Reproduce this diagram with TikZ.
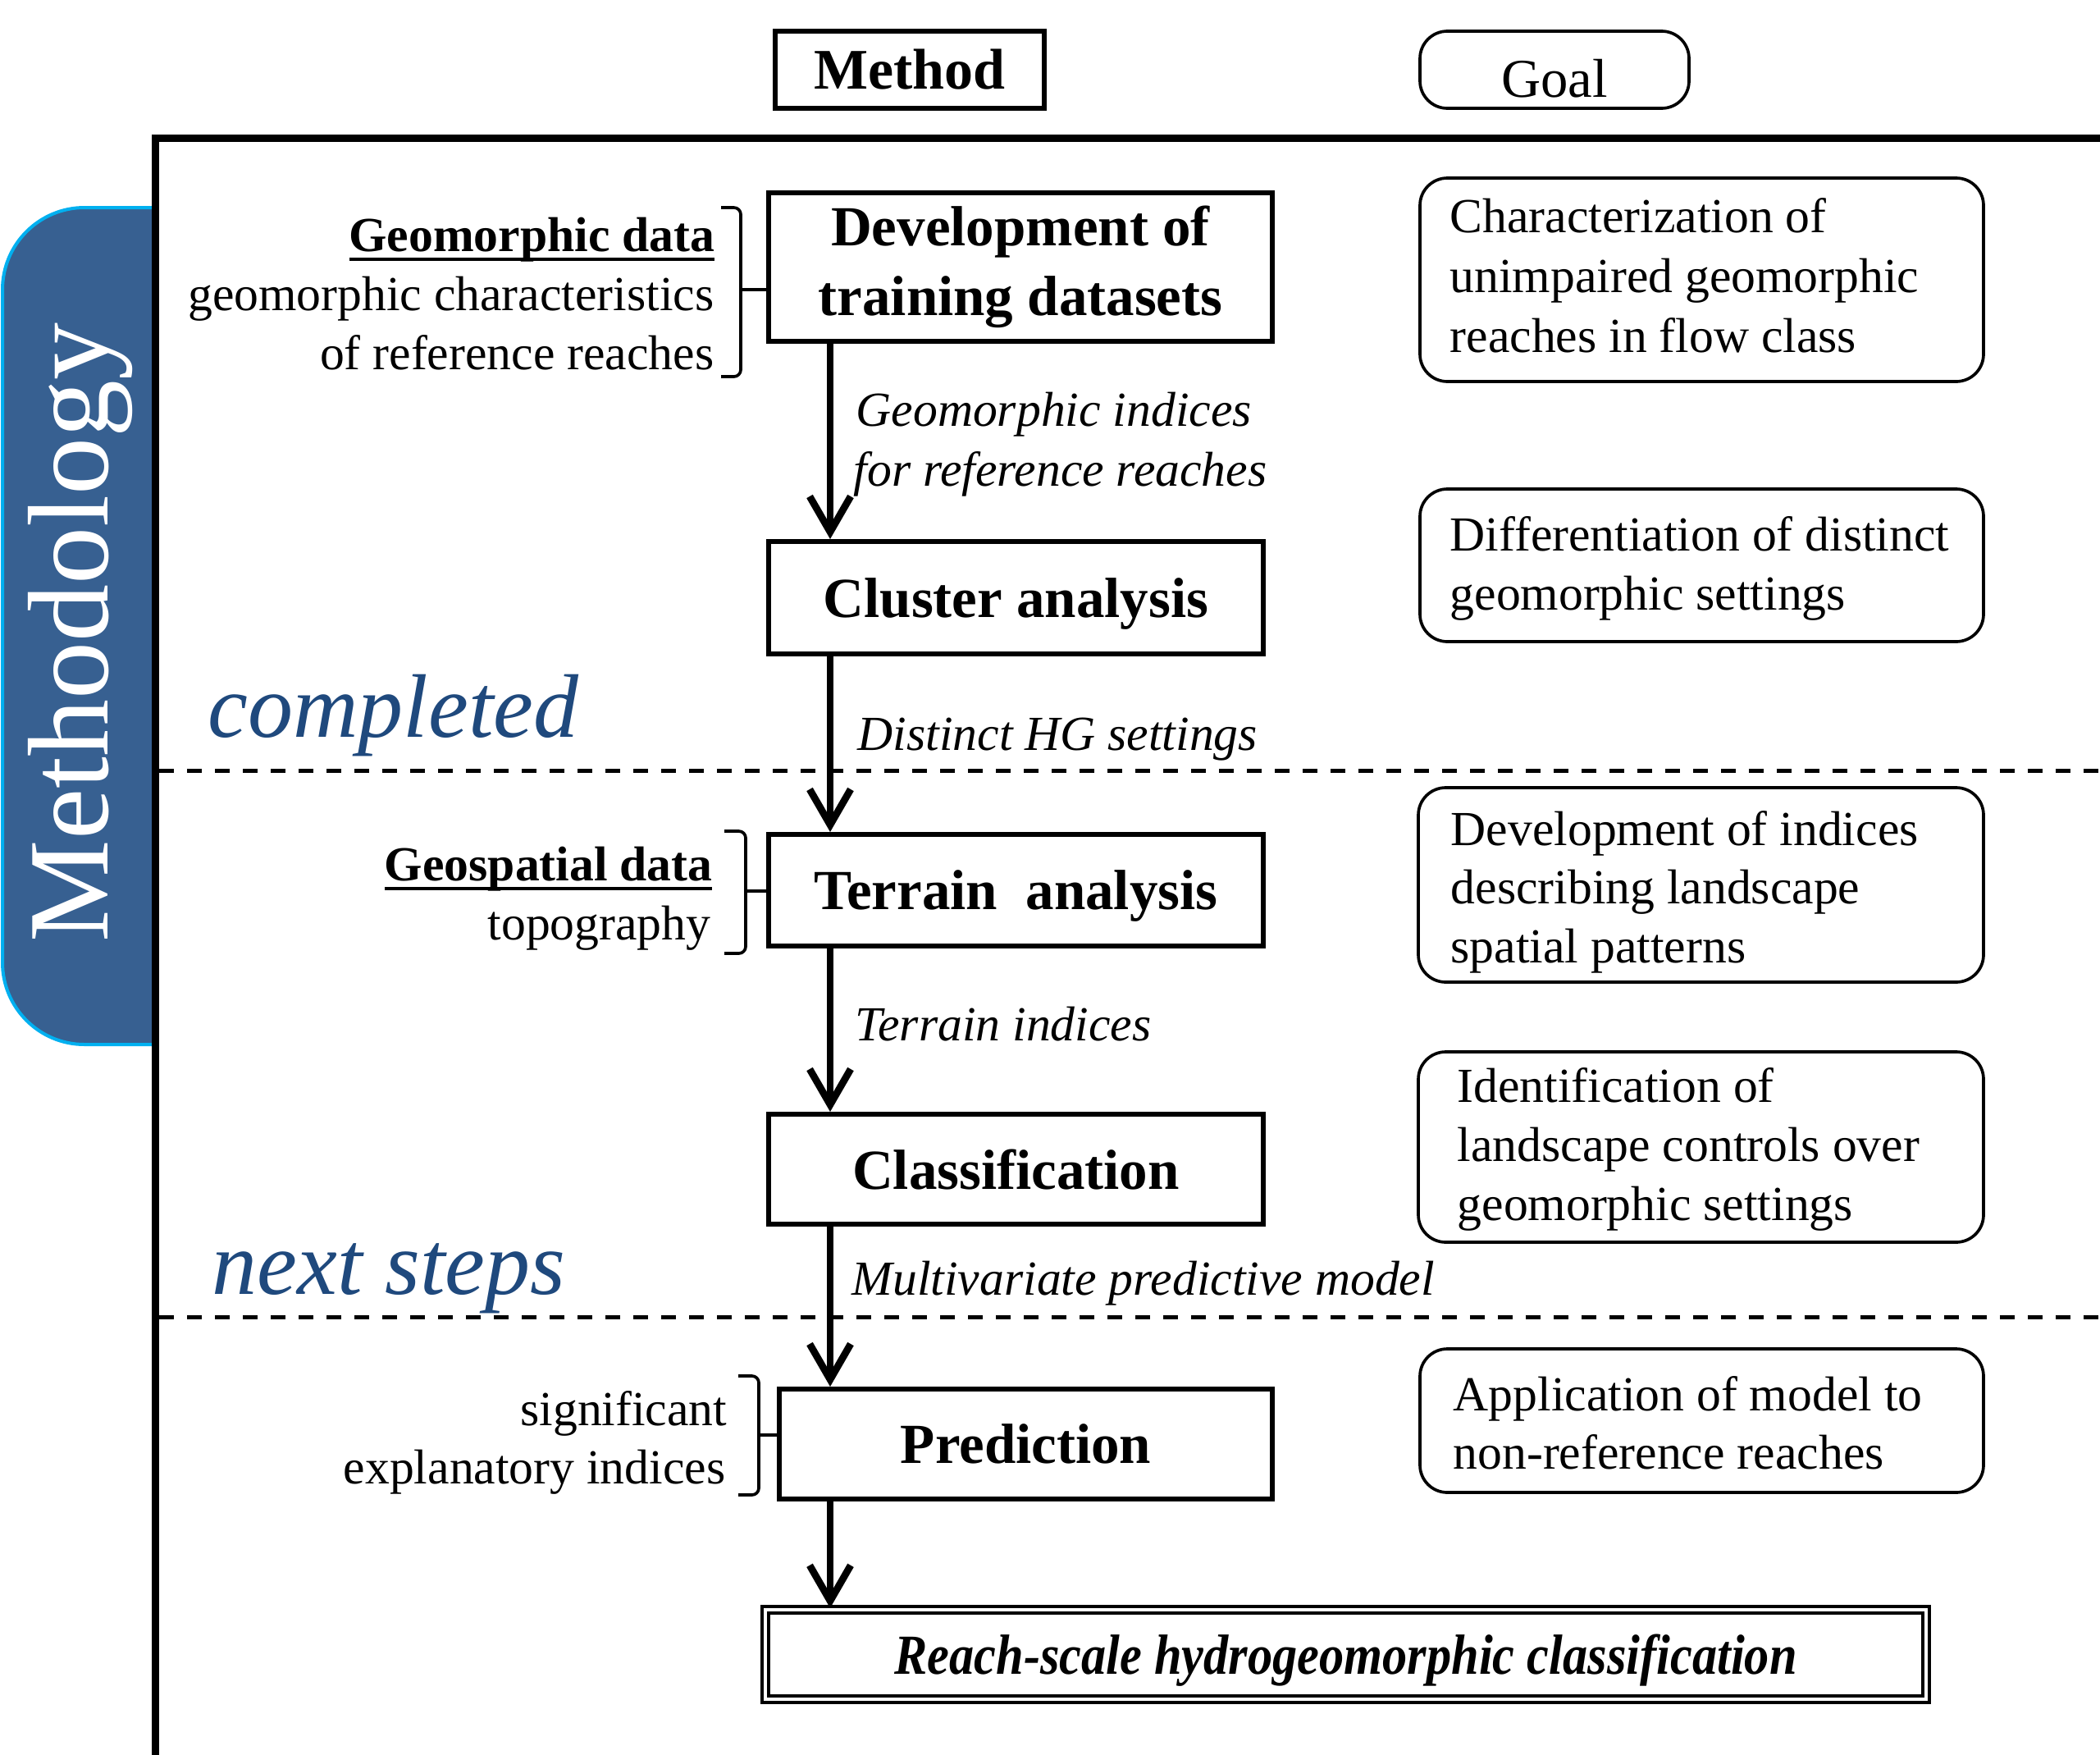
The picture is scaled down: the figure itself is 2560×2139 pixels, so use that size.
\documentclass[tikz,border=0pt]{standalone}
\usepackage{fontspec}
\setmainfont{Liberation Serif}
\usetikzlibrary{arrows.meta}

\definecolor{tabfill}{RGB}{55,96,145}
\definecolor{tabedge}{RGB}{0,176,240}
\definecolor{stageblue}{RGB}{31,73,125}

% heavier underline for the input headings
\newcommand{\headrule}[1]{\setbox0\hbox{#1}\rlap{\rule[-3.6pt]{\wd0}{1.1pt}}\box0}

\begin{document}
\begin{tikzpicture}[x=0.3pt, y=-0.3pt,
  stepbox/.style={draw, line width=1.8pt, inner sep=0pt, align=center,
    font=\fontsize{20.7}{25.5}\selectfont\bfseries},
  onerow/.style={text depth=0pt},
  goalbox/.style={draw, line width=1.1pt, rounded corners=10pt, inner sep=0pt,
    minimum width=206.1pt},
  goaltext/.style={anchor=base west, inner sep=0pt, font=\fontsize{17.9}{21.6}\selectfont},
  datatext/.style={anchor=base east, inner sep=0pt, font=\fontsize{17.9}{21.6}\selectfont},
  flowlabel/.style={anchor=base west, inner sep=0pt, font=\fontsize{17.9}{21.6}\selectfont\itshape},
  flow/.style={line width=2.5pt, -{Straight Barb[length=13pt,width=15pt,line width=2.6pt]}},
  bracket/.style={line width=1.1pt, rounded corners=2.5pt},
  stage/.style={anchor=base west, inner sep=0pt, text=stageblue,
    font=\fontsize{33}{40}\selectfont\itshape},
  divider/.style={line width=1.5pt, dash pattern=on 5.4pt off 4.8pt}
]
\useasboundingbox (0,0) rectangle (2560,2139);

% side tab with the vertical title
\filldraw[fill=tabfill, draw=tabedge, line width=1.2pt, rounded corners=30pt]
  (189,253) -- (3,253) -- (3,1273) -- (189,1273);
\node[rotate=90, anchor=base, inner sep=0pt, text=white,
  font=\fontsize{42}{50}\selectfont] (tabtitle) at (131,771) {Methodology};

% outer frame
\draw[line width=2.7pt] (189,2160) -- (189,168) -- (2580,168);

% stage dividers and stage names
\draw[divider] (194,939) -- (2560,939);
\draw[divider] (194,1605) -- (2560,1605);
\node[stage] (done) at (253,898) {completed};
\node[stage] (todo) at (258,1577) {next steps};

% column headers
\node[draw, line width=1.8pt, minimum width=98.4pt, minimum height=28.2pt, inner sep=0pt,
  font=\fontsize{21}{25}\selectfont\bfseries] (methodhead) at (1109,85) {Method};
\node[goalbox, minimum width=98.4pt, minimum height=28.2pt, text height=19.8pt, text depth=0pt,
  font=\fontsize{20}{24}\selectfont] (goalhead) at (1895,85) {Goal};

% method steps
\coordinate (spine) at (1012,0);
\node[stepbox, minimum width=184.2pt, minimum height=54.3pt] (dev) at (1244,325.5)
  {Development of\\training datasets};
\node[stepbox, onerow, minimum width=180.9pt, minimum height=41.1pt] (clu) at (1238.5,728.5)
  {Cluster analysis};
\node[stepbox, onerow, minimum width=180.9pt, minimum height=40.8pt] (ter) at (1238.5,1085)
  {Terrain~ analysis};
\node[stepbox, onerow, minimum width=180.9pt, minimum height=40.2pt] (cla) at (1238.5,1425)
  {Classification};
\node[stepbox, onerow, minimum width=180.3pt, minimum height=40.2pt] (pre) at (1250.5,1760)
  {Prediction};
\node[draw, line width=1.3pt, double=white, double distance=1.2pt, inner sep=0pt,
  minimum width=424.5pt, minimum height=32.7pt, text depth=0pt,
  font=\fontsize{20.7}{25}\selectfont\bfseries\itshape] (res) at (1640.5,2016.5)
  {\scalebox{0.875}[1]{Reach-scale hydrogeomorphic classification}};

% flow between the steps
\draw[flow] (dev.south -| spine) -- (clu.north -| spine);
\draw[flow] (clu.south -| spine) -- (ter.north -| spine);
\draw[flow] (ter.south -| spine) -- (cla.north -| spine);
\draw[flow] (cla.south -| spine) -- (pre.north -| spine);
\draw[flow] (pre.south -| spine) -- (res.north -| spine);

% what passes along each step
\node[flowlabel] (f1a) at (1043,519) {Geomorphic indices};
\node[flowlabel] (f1b) at (1040,592) {for reference reaches};
\node[flowlabel] (f2) at (1045,914) {Distinct HG settings};
\node[flowlabel] (f3) at (1042,1268) {Terrain indices};
\node[flowlabel] (f4) at (1038,1578) {Multivariate predictive model};

% inputs on the left, with their brackets
\node[datatext, font=\fontsize{17.9}{21.6}\selectfont\bfseries] (in1a) at (872,306) {\headrule{Geomorphic data}};
\node[datatext] (in1b) at (871,378) {geomorphic characteristics};
\node[datatext] (in1c) at (871,450) {of reference reaches};
\draw[bracket] (879,253) -- (903,253) -- (903,459) -- (879,459);
\draw[line width=1.1pt] (903,353) -- (dev.west |- 0,353);

\node[datatext, font=\fontsize{17.9}{21.6}\selectfont\bfseries] (in2a) at (869,1073) {\headrule{Geospatial data}};
\node[datatext] (in2b) at (867,1145) {topography};
\draw[bracket] (883,1013) -- (909,1013) -- (909,1162) -- (883,1162);
\draw[line width=1.1pt] (909,1086) -- (ter.west |- 0,1086);

\node[datatext] (in3a) at (887,1737) {significant};
\node[datatext] (in3b) at (885,1808) {explanatory indices};
\draw[bracket] (900,1677) -- (925,1677) -- (925,1822) -- (900,1822);
\draw[line width=1.1pt] (925,1749) -- (pre.west |- 0,1749);

% goals on the right
\node[goalbox, minimum height=74.4pt] (g1) at (2074.5,341) {};
\node[goaltext] (g1a) at (1767,283) {Characterization of};
\node[goaltext] (g1b) at (1767,356) {unimpaired geomorphic};
\node[goaltext] (g1c) at (1767,429) {reaches in flow class};

\node[goalbox, minimum height=55.8pt] (g2) at (2074.5,689) {};
\node[goaltext] (g2a) at (1767,671) {Differentiation of distinct};
\node[goaltext] (g2b) at (1767,743) {geomorphic settings};

\node[goalbox, minimum width=206.7pt, minimum height=71.1pt] (g3) at (2073.5,1078.5) {};
\node[goaltext] (g3a) at (1768,1030) {Development of indices};
\node[goaltext] (g3b) at (1768,1101) {describing landscape};
\node[goaltext] (g3c) at (1768,1173) {spatial patterns};

\node[goalbox, minimum width=206.7pt, minimum height=69.6pt] (g4) at (2073.5,1398) {};
\node[goaltext] (g4a) at (1776,1343) {Identification of};
\node[goaltext] (g4b) at (1776,1415) {landscape controls over};
\node[goaltext] (g4c) at (1776,1487) {geomorphic settings};

\node[goalbox, minimum height=52.5pt] (g5) at (2074.5,1731.5) {};
\node[goaltext] (g5a) at (1771,1719) {Application of model to};
\node[goaltext] (g5b) at (1771,1790) {non-reference reaches};
\end{tikzpicture}
\end{document}
